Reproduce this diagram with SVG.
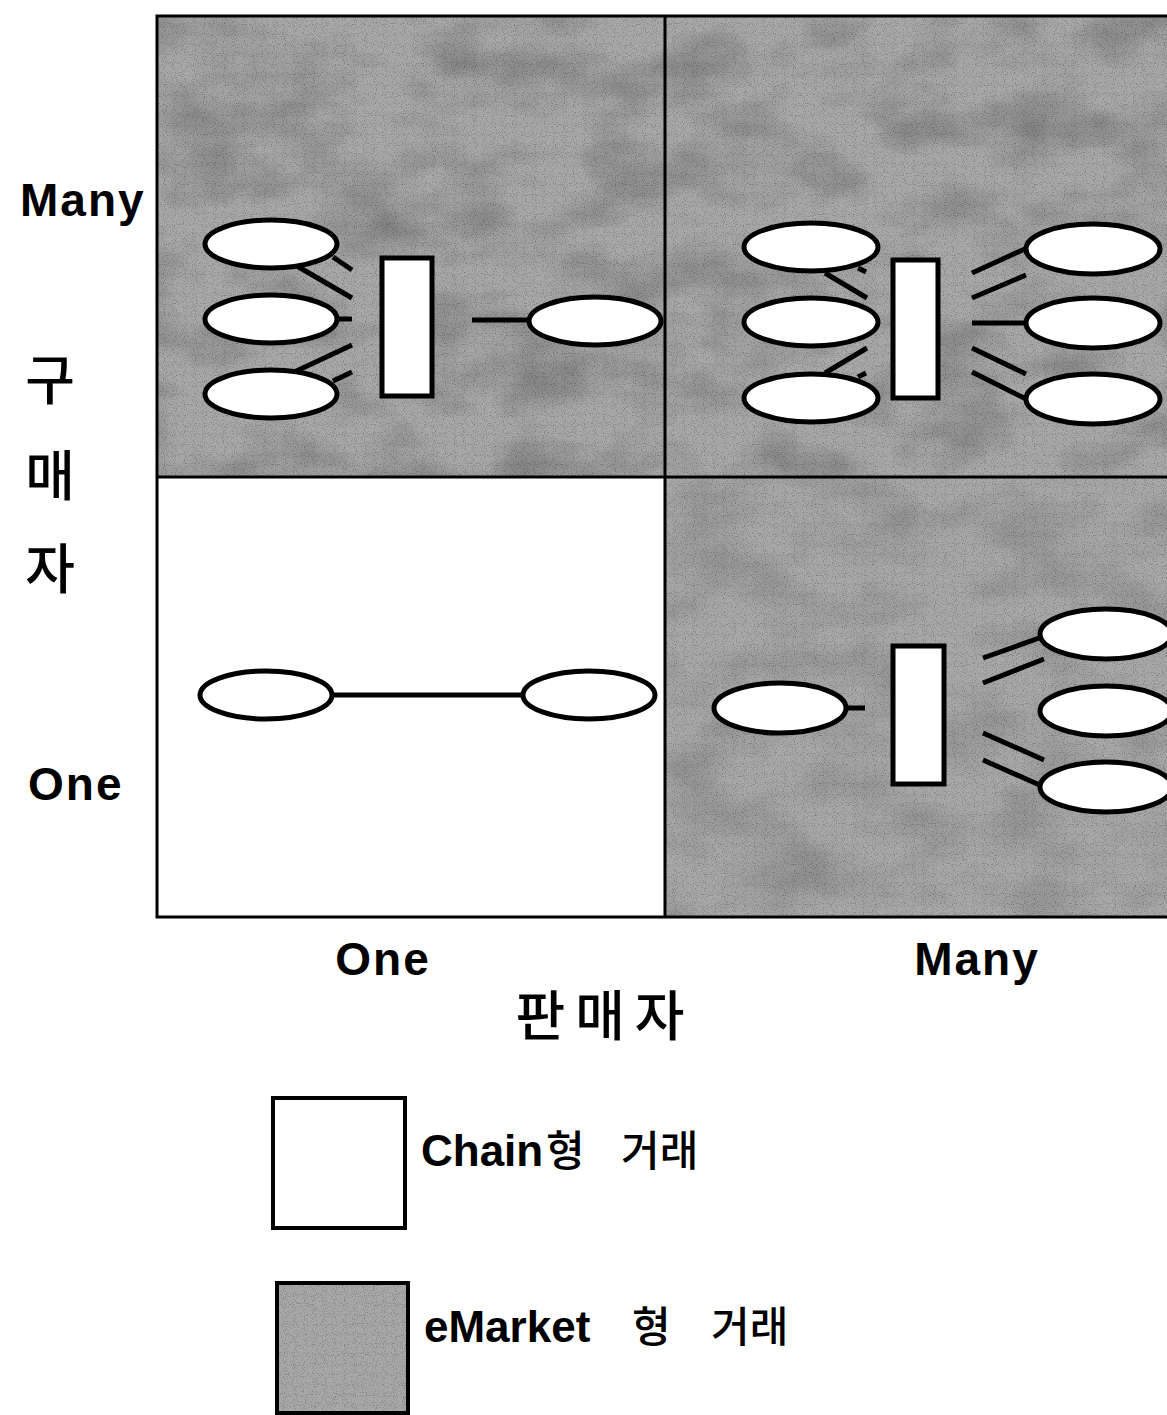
<svg xmlns="http://www.w3.org/2000/svg" width="1167" height="1415" viewBox="0 0 1167 1415">
  <defs>
    <filter id="grain" x="0" y="0" width="100%" height="100%">
      <feTurbulence type="fractalNoise" baseFrequency="0.012 0.02" numOctaves="3" seed="7" result="n"/>
      <feColorMatrix in="n" type="matrix" values="0 0 0 0 0  0 0 0 0 0  0 0 0 0 0  0 0 0 1.4 -0.55" result="a"/>
      <feComposite in="a" in2="SourceGraphic" operator="in"/>
    </filter>
    <filter id="speck" x="0" y="0" width="100%" height="100%">
      <feTurbulence type="fractalNoise" baseFrequency="0.9" numOctaves="1" seed="3" result="n"/>
      <feColorMatrix in="n" type="matrix" values="0 0 0 0 0  0 0 0 0 0  0 0 0 0 0  0 0 0 2.6 -1.35" result="a"/>
      <feComposite in="a" in2="SourceGraphic" operator="in"/>
    </filter>
  </defs>
  <style>
    .shade { fill: #a8a8a8; }
    .frame { fill: none; stroke: #000; stroke-width: 3; }
    .node { fill: #fff; stroke: #000; stroke-width: 5; }
    .hub { fill: #fff; stroke: #000; stroke-width: 5; }
    .link { stroke: #000; stroke-width: 5; fill: none; stroke-linecap: butt; }
    .lat { font-family: "Liberation Sans", Arial, sans-serif; font-size: 46px; font-weight: bold; letter-spacing: 2px; fill: #000; }
    .kor { font-family: "Noto Sans CJK KR", "Liberation Sans", sans-serif; font-size: 54px; font-weight: 500; fill: #000; }
    .leg { font-family: "Liberation Sans", "Noto Sans CJK KR", sans-serif; font-size: 44px; font-weight: bold; fill: #000; }
    .legk { font-family: "Noto Sans CJK KR", "Liberation Sans", sans-serif; font-size: 42px; font-weight: 500; fill: #000; }
  </style>

  <rect width="1167" height="1415" fill="#fff"/>

  <!-- shaded quadrants (eMarket type) -->
  <g id="shading">
    <rect class="shade" x="157" y="16" width="1020" height="461"/>
    <rect class="shade" x="665" y="477" width="512" height="440"/>
    <rect x="157" y="16" width="1020" height="461" fill="#fff" filter="url(#grain)" opacity="0.3"/>
    <rect x="665" y="477" width="512" height="440" fill="#000" filter="url(#grain)" opacity="0.2"/>
    <rect x="157" y="16" width="1020" height="461" fill="#000" filter="url(#speck)" opacity="0.4"/>
    <rect x="665" y="477" width="512" height="440" fill="#000" filter="url(#speck)" opacity="0.4"/>
  </g>

  <!-- grid frame -->
  <g id="grid">
    <rect class="frame" x="157" y="16" width="1020" height="901"/>
    <line class="frame" x1="665" y1="16" x2="665" y2="917"/>
    <line class="frame" x1="157" y1="477" x2="1177" y2="477"/>
  </g>

  <!-- connectors -->
  <g id="connectors">
    <!-- many buyers / one seller -->
    <line class="link" x1="290" y1="262" x2="352" y2="298"/>
    <line class="link" x1="333" y1="257" x2="352" y2="270"/>
    <line class="link" x1="338" y1="319" x2="352" y2="319"/>
    <line class="link" x1="290" y1="374" x2="352" y2="345"/>
    <line class="link" x1="333" y1="381" x2="352" y2="372"/>
    <line class="link" x1="472" y1="320" x2="530" y2="320"/>
    <!-- many buyers / many sellers -->
    <line class="link" x1="825" y1="273" x2="867" y2="298"/>
    <line class="link" x1="858" y1="268" x2="866" y2="272"/>
    <line class="link" x1="825" y1="373" x2="867" y2="348"/>
    <line class="link" x1="858" y1="377" x2="866" y2="373"/>
    <line class="link" x1="972" y1="273" x2="1027" y2="248"/>
    <line class="link" x1="972" y1="298" x2="1026" y2="275"/>
    <line class="link" x1="972" y1="323" x2="1026" y2="323"/>
    <line class="link" x1="972" y1="348" x2="1026" y2="374"/>
    <line class="link" x1="972" y1="372" x2="1028" y2="400"/>
    <!-- one buyer / one seller -->
    <line class="link" x1="332" y1="695" x2="523" y2="695"/>
    <!-- one buyer / many sellers -->
    <line class="link" x1="846" y1="708" x2="865" y2="708"/>
    <line class="link" x1="983" y1="658" x2="1042" y2="637"/>
    <line class="link" x1="983" y1="683" x2="1044" y2="659"/>
    <line class="link" x1="983" y1="733" x2="1044" y2="760"/>
    <line class="link" x1="983" y1="760" x2="1042" y2="786"/>
  </g>

  <!-- many buyers, one seller -->
  <g id="q-many-one">
    <ellipse class="node" cx="271" cy="244" rx="66" ry="24"/>
    <ellipse class="node" cx="271" cy="319" rx="66" ry="24"/>
    <ellipse class="node" cx="271" cy="394" rx="66" ry="24"/>
    <rect class="hub" x="382" y="258" width="50" height="138"/>
    <ellipse class="node" cx="595" cy="321" rx="66" ry="24"/>
  </g>

  <!-- many buyers, many sellers -->
  <g id="q-many-many">
    <ellipse class="node" cx="811" cy="247" rx="67" ry="24"/>
    <ellipse class="node" cx="811" cy="322" rx="67" ry="24"/>
    <ellipse class="node" cx="811" cy="398" rx="67" ry="24"/>
    <rect class="hub" x="893" y="260" width="45" height="138"/>
    <ellipse class="node" cx="1093" cy="249" rx="67" ry="25"/>
    <ellipse class="node" cx="1093" cy="323" rx="67" ry="25"/>
    <ellipse class="node" cx="1093" cy="399" rx="67" ry="25"/>
  </g>

  <!-- one buyer, one seller -->
  <g id="q-one-one">
    <ellipse class="node" cx="266" cy="695" rx="66" ry="24"/>
    <ellipse class="node" cx="589" cy="695" rx="66" ry="24"/>
  </g>

  <!-- one buyer, many sellers -->
  <g id="q-one-many">
    <ellipse class="node" cx="780" cy="708" rx="66" ry="25"/>
    <rect class="hub" x="893" y="646" width="51" height="138"/>
    <ellipse class="node" cx="1106" cy="634" rx="66" ry="25"/>
    <ellipse class="node" cx="1106" cy="711" rx="66" ry="25"/>
    <ellipse class="node" cx="1106" cy="787" rx="66" ry="25"/>
  </g>

  <!-- axis labels -->
  <g id="axis-buyer">
    <text class="lat" x="20" y="216">Many</text>
    <text class="kor" x="50" y="400" text-anchor="middle">구</text>
    <text class="kor" x="50" y="496" text-anchor="middle">매</text>
    <text class="kor" x="50" y="589" text-anchor="middle">자</text>
    <text class="lat" x="28" y="800">One</text>
  </g>
  <g id="axis-seller">
    <text class="lat" x="383" y="975" text-anchor="middle">One</text>
    <text class="lat" x="977" y="975" text-anchor="middle">Many</text>
    <text class="kor" x="605" y="1036" text-anchor="middle" letter-spacing="10">판매자</text>
  </g>

  <!-- legend -->
  <g id="legend-chain">
    <rect x="273" y="1098" width="132" height="130" fill="#fff" stroke="#000" stroke-width="4"/>
    <text y="1166"><tspan class="leg" x="421">Chain</tspan><tspan class="legk" x="546">형</tspan><tspan class="legk" x="621">거래</tspan></text>
  </g>
  <g id="legend-emarket">
    <rect x="277" y="1283" width="131" height="130" class="shade"/>
    <rect x="277" y="1283" width="131" height="130" fill="#000" filter="url(#speck)" opacity="0.4"/>
    <rect x="277" y="1283" width="131" height="130" fill="none" stroke="#000" stroke-width="4"/>
    <text y="1342"><tspan class="leg" x="424">eMarket</tspan><tspan class="legk" x="632">형</tspan><tspan class="legk" x="711">거래</tspan></text>
  </g>
</svg>
